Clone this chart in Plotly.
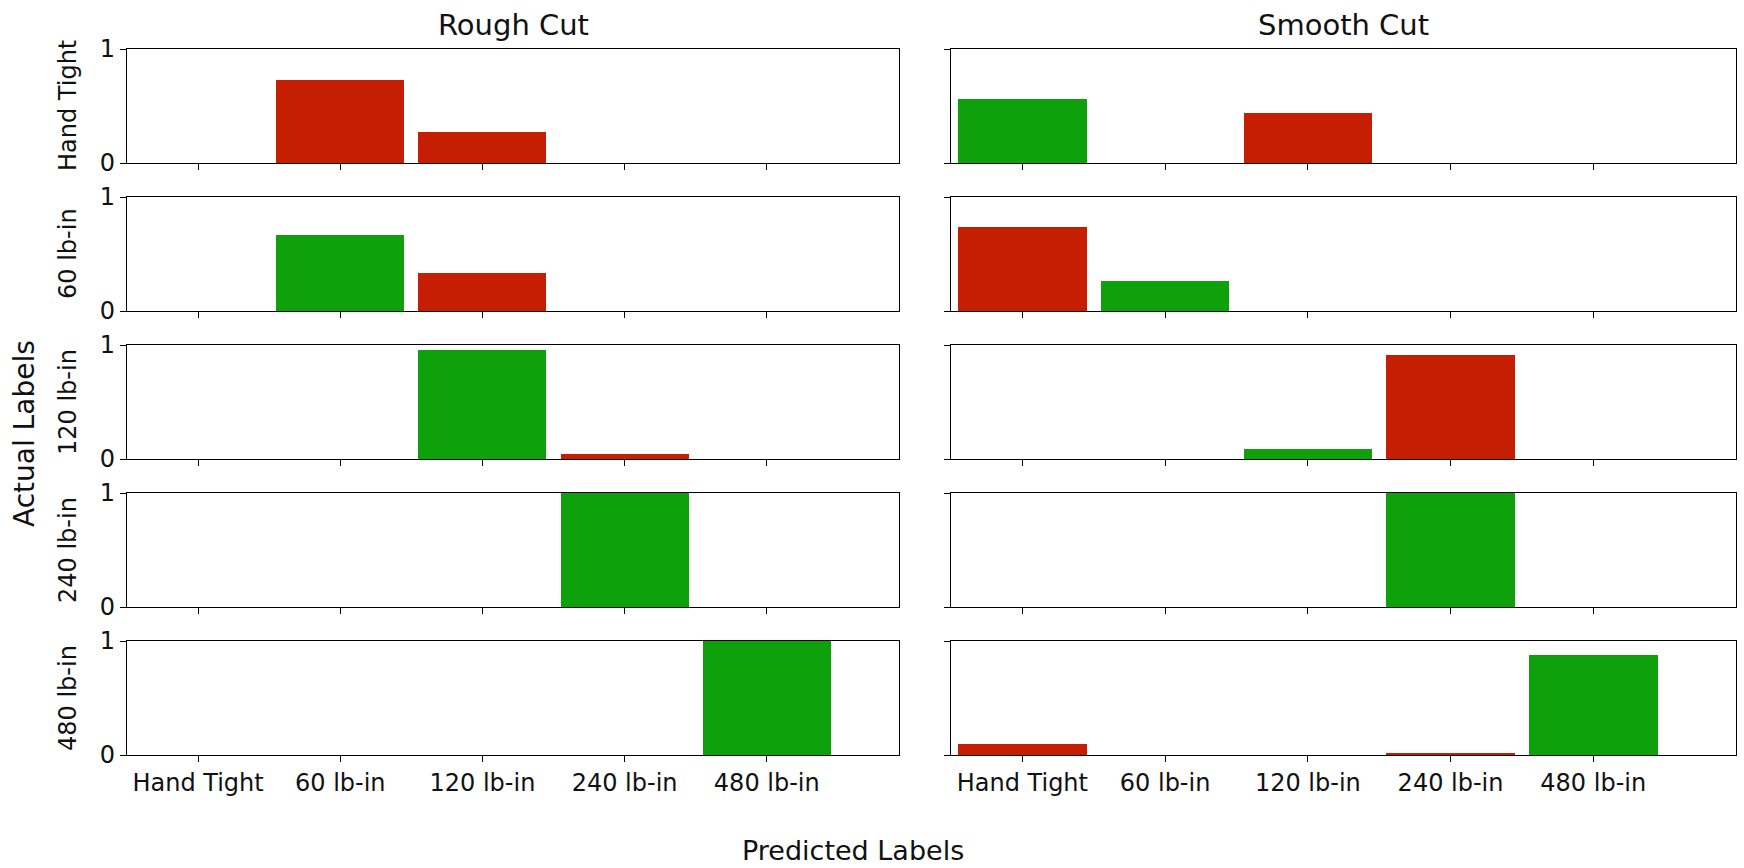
import plotly.graph_objects as go

# Torque classes used on both axes
labels = ["Hand Tight", "60 lb-in", "120 lb-in", "240 lb-in", "480 lb-in"]

# Fraction of samples of each actual class predicted as each class
# (rows = actual label, columns = predicted label)
rough_cut = [
    [0.00, 0.73, 0.27, 0.00, 0.00],
    [0.00, 0.67, 0.33, 0.00, 0.00],
    [0.00, 0.00, 0.96, 0.04, 0.00],
    [0.00, 0.00, 0.00, 1.00, 0.00],
    [0.00, 0.00, 0.00, 0.00, 1.00],
]
smooth_cut = [
    [0.56, 0.00, 0.44, 0.00, 0.00],
    [0.74, 0.26, 0.00, 0.00, 0.00],
    [0.00, 0.00, 0.09, 0.91, 0.00],
    [0.00, 0.00, 0.00, 1.00, 0.00],
    [0.10, 0.00, 0.00, 0.02, 0.88],
]
panel_titles = ["Rough Cut", "Smooth Cut"]

CORRECT = "#0ea10c"
WRONG = "#c61e02"
FONT = "DejaVu Sans"
W, H = 1744, 868

# pixel geometry of the grid
row_top = [49, 197, 345, 493, 641]
row_h = 114
col_x = [(127, 899), (951, 1736)]
x_ranges = [[-0.5, 4.93], [-0.5, 5.0]]

fig = go.Figure()
positions = list(range(len(labels)))

for c, matrix in enumerate([rough_cut, smooth_cut]):
    for r, row in enumerate(matrix):
        idx = r * 2 + c + 1
        xa = "x" if idx == 1 else f"x{idx}"
        ya = "y" if idx == 1 else f"y{idx}"
        colors = [CORRECT if p == r else WRONG for p in positions]
        fig.add_trace(go.Bar(
            x=positions, y=row, width=0.9,
            marker=dict(color=colors, line=dict(width=0)),
            xaxis=xa, yaxis=ya, showlegend=False, hoverinfo="skip",
        ))
        x0, x1 = col_x[c]
        top = row_top[r]
        bottom = top + row_h
        last = r == len(matrix) - 1
        axis_common = dict(showline=True, linecolor="black", linewidth=1.4,
                           mirror=True, ticks="outside", ticklen=6, tickwidth=1.3,
                           tickcolor="black", showgrid=False, zeroline=False,
                           automargin=False,
                           tickfont=dict(family=FONT, size=24, color="#111"))
        fig.layout[f"xaxis{'' if idx == 1 else idx}"] = dict(
            domain=[x0 / W, x1 / W], anchor=ya, range=x_ranges[c],
            tickvals=positions, ticktext=labels, showticklabels=last,
            **axis_common)
        fig.layout[f"yaxis{'' if idx == 1 else idx}"] = dict(
            domain=[1 - bottom / H, 1 - top / H], anchor=xa, range=[0, 1],
            tickvals=[0, 1], ticktext=["0", "1"], showticklabels=(c == 0),
            **axis_common)

annotations = []
for c, title in enumerate(panel_titles):
    x0, x1 = col_x[c]
    annotations.append(dict(text=title, x=(x0 + x1) / 2 / W, y=1 - 25 / H,
                            xref="paper", yref="paper", showarrow=False,
                            xanchor="center", yanchor="middle",
                            font=dict(family=FONT, size=29, color="#111")))
for r, lab in enumerate(labels):
    yc = row_top[r] + row_h / 2
    annotations.append(dict(text=lab, x=68 / W, y=1 - yc / H, textangle=-90,
                            xref="paper", yref="paper", showarrow=False,
                            xanchor="center", yanchor="middle",
                            font=dict(family=FONT, size=24, color="#111")))
annotations.append(dict(text="Actual Labels", x=24 / W, y=1 - 434 / H, textangle=-90,
                        xref="paper", yref="paper", showarrow=False,
                        xanchor="center", yanchor="middle",
                        font=dict(family=FONT, size=28, color="#111")))
annotations.append(dict(text="Predicted Labels", x=853 / W, y=1 - 850 / H,
                        xref="paper", yref="paper", showarrow=False,
                        xanchor="center", yanchor="middle",
                        font=dict(family=FONT, size=27, color="#111")))

fig.update_layout(
    width=W, height=H, margin=dict(l=0, r=0, t=0, b=0, autoexpand=False),
    paper_bgcolor="white", plot_bgcolor="white",
    bargap=0, annotations=annotations,
)

fig.write_html("out.html")
